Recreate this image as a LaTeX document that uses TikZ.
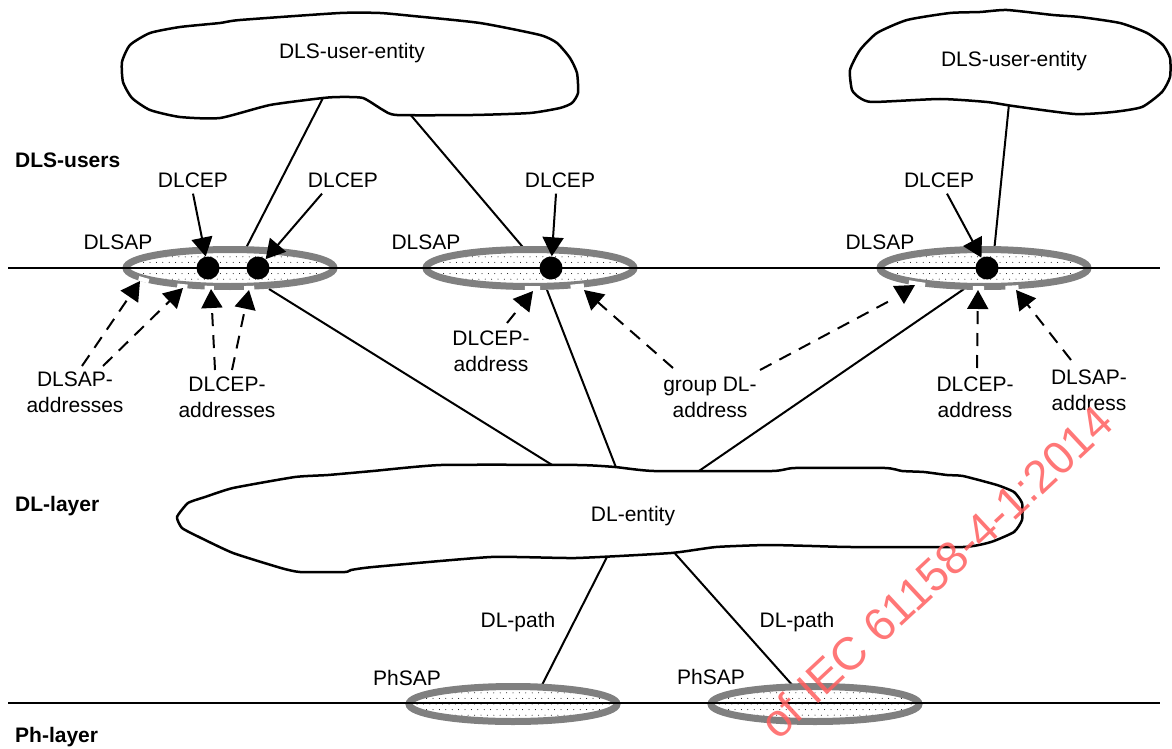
\documentclass[tikz,border=0pt]{standalone}
\usepackage{fontspec}
\setmainfont{Liberation Sans}
\usetikzlibrary{arrows.meta}
\definecolor{sapgray}{RGB}{128,128,128}
\definecolor{wmred}{RGB}{255,95,95}

% dotted interior of a service access point ellipse
\newcommand\sapdots[4]{%
  \begin{scope}
    \clip (#1,#2) ellipse [x radius=#3, y radius=#4];
    \foreach \j in {-4,...,4} {
      \foreach \i in {-18,...,18} {
        \fill[black] ({#1+6.4*\i+3.2*mod(abs(\j),2)}, {#2+5.6*\j}) circle (0.5);
      }
    }
  \end{scope}}

% gap in the lower rim of an ellipse, between two parameter angles
\newcommand\rimgap[6]{%
  \draw[notch] (#1,#2) ++(#5:#3 and #4) arc[start angle=#5, end angle=#6, x radius=#3, y radius=#4];}

\begin{document}
\begin{tikzpicture}[x=1pt,y=-1pt,
  lbl/.style={font=\fontsize{21}{26}\selectfont, inner sep=0pt, align=center},
  layer/.style={font=\fontsize{21}{26}\selectfont\bfseries, inner sep=0pt, anchor=west},
  wire/.style={line width=2pt},
  blob/.style={line width=2.5pt, fill=white, line join=round},
  sapring/.style={draw=sapgray, line width=7pt},
  dot/.style={circle, fill=black, inner sep=0pt, minimum size=23pt},
  ptr/.style={line width=2pt, -{Triangle[length=19pt,width=21pt]}},
  addr/.style={line width=2pt, dash pattern=on 13pt off 9pt, -{Triangle[length=19pt,width=21pt]}},
  notch/.style={white, line width=4.5pt},
]
\useasboundingbox (0,0) rectangle (1172,749);

% ---------- attachment points ----------
\coordinate (u1a) at (323,98);   \coordinate (sapAt) at (244,252);
\coordinate (u1b) at (409,113);  \coordinate (sapBt) at (527,252);
\coordinate (u2a) at (1009,104); \coordinate (sapCt) at (994,252);
\coordinate (sapAb) at (269,289); \coordinate (dle1) at (557,468);
\coordinate (sapBb) at (547,290); \coordinate (dle2) at (617,470);
\coordinate (sapCb) at (964,289); \coordinate (dle3) at (696,473);
\coordinate (dle4) at (609,553); \coordinate (phAt) at (541,687);
\coordinate (dle5) at (671,549); \coordinate (phBt) at (794,687);

% ---------- connecting lines ----------
\draw[wire] (u1a) -- (sapAt);
\draw[wire] (u1b) -- (sapBt);
\draw[wire] (u2a) -- (sapCt);
\draw[wire] (sapAb) -- (dle1);
\draw[wire] (sapBb) -- (dle2);
\draw[wire] (sapCb) -- (dle3);
\draw[wire] (dle4) -- (phAt);
\draw[wire] (dle5) -- (phBt);

% ---------- entities ----------
\draw[blob] plot[smooth cycle, tension=0.35] coordinates {
  (220,23) (240,20) (340,13) (380,13) (413,16) (480,23) (540,35) (557,43)
  (570,58) (577,73) (578,93) (572,103) (560,108) (530,113) (473,115)
  (397,115) (383,110) (363,98) (340,97) (323,98) (270,105) (220,118)
  (180,117) (150,110) (132,98) (123,82) (122,62) (130,45) (150,33) (180,27)};
\node[lbl] (ue1) at (352,53) {DLS-user-entity};

\draw[blob] plot[smooth cycle, tension=0.35] coordinates {
  (850,70) (860,50) (877,33) (907,20) (950,13) (980,12) (1007,10) (1053,15)
  (1080,17) (1120,23) (1147,33) (1163,45) (1170,58) (1170,77) (1162,92)
  (1142,107) (1113,112) (1075,114) (1013,106) (987,102) (940,99) (873,102)
  (860,98) (852,90)};
\node[lbl] (ue2) at (1014,61) {DLS-user-entity};

\draw[blob] plot[smooth cycle, tension=0.3] coordinates {
  (177,517) (182,528) (199,537) (233,553) (281,568) (300,572) (345,572)
  (351,570) (373,567) (491,557) (576,558) (671,553) (716,547) (767,545)
  (812,546) (851,547) (963,547) (991,542) (1014,532) (1022,520) (1022,503)
  (1014,492) (997,485) (963,476) (947,475) (924,472) (902,471) (885,468)
  (795,468) (772,471) (654,471) (615,467) (578,465) (441,465) (373,471)
  (328,475) (295,477) (233,488) (205,497) (188,503)};
\node[lbl] (dle) at (633,516) {DL-entity};

% ---------- service access points ----------
\sapdots{230}{268}{100}{15}
\sapdots{530}{268}{100}{15}
\sapdots{984}{268}{100}{15}
\sapdots{513}{704}{100}{14}
\sapdots{815}{704}{100}{14}

\draw[sapring] (230,268) ellipse [x radius=104, y radius=18.5];
\draw[sapring] (530,268) ellipse [x radius=104, y radius=18.5];
\draw[sapring] (984,268) ellipse [x radius=104, y radius=18.5];
\draw[sapring] (513,704) ellipse [x radius=104, y radius=17.5];
\draw[sapring] (815,704) ellipse [x radius=104, y radius=17.5];

% address marks on the lower rims
\rimgap{230}{268}{105.5}{20.5}{149.9}{140.3}
\rimgap{230}{268}{105.5}{20.5}{120}{113.8}
\rimgap{230}{268}{105.5}{20.5}{103.9}{98.8}
\rimgap{230}{268}{105.5}{20.5}{82.3}{76.7}
\rimgap{530}{268}{105.5}{20.5}{92.8}{84.5}
\rimgap{530}{268}{105.5}{20.5}{67.4}{59.3}
\rimgap{984}{268}{105.5}{20.5}{135.4}{123.9}
\rimgap{984}{268}{105.5}{20.5}{96.1}{90}
\rimgap{984}{268}{105.5}{20.5}{78.3}{70.9}

% layer boundaries
\coordinate (topL) at (8,268);  \coordinate (topR) at (1160,268);
\coordinate (botL) at (8,703);  \coordinate (botR) at (1160,703);
\draw[wire] (topL) -- (topR);
\draw[wire] (botL) -- (botR);

% connection end points
\node[dot] (dA1) at (208,268) {};
\node[dot] (dA2) at (258,268) {};
\node[dot] (dB)  at (551,268) {};
\node[dot] (dC)  at (987,268) {};

% ---------- labels ----------
\node[layer] (lu)  at (15,160) {DLS-users};
\node[layer] (ldl) at (15,506) {DL-layer};
\node[layer] (lph) at (15,737) {Ph-layer};

\node[lbl] (c1) at (193,180) {DLCEP};
\node[lbl] (c2) at (343,180) {DLCEP};
\node[lbl] (c3) at (560,180) {DLCEP};
\node[lbl] (c4) at (939,180) {DLCEP};

\node[lbl] (s1) at (118,242) {DLSAP};
\node[lbl] (s2) at (426,242) {DLSAP};
\node[lbl] (s3) at (880,242) {DLSAP};

\node[lbl] (ad1) at (75,392) {DLSAP-\\addresses};
\node[lbl] (ad2) at (227,397) {DLCEP-\\addresses};
\node[lbl] (ad3) at (491,351) {DLCEP-\\address};
\node[lbl] (ad4) at (710,397) {group DL-\\address};
\node[lbl] (ad5) at (975,397) {DLCEP-\\address};
\node[lbl] (ad6) at (1089,390) {DLSAP-\\address};

\node[lbl] (p1) at (518,622) {DL-path};
\node[lbl] (p2) at (797,622) {DL-path};
\node[lbl] (ph1) at (407,678) {PhSAP};
\node[lbl] (ph2) at (711,677) {PhSAP};

% ---------- connection end point pointers ----------
\draw[ptr] ([yshift=-6pt]c1.south) -- (dA1);
\draw[ptr] ([xshift=-21pt,yshift=-6pt]c2.south) -- (dA2);
\draw[ptr] ([xshift=-4pt,yshift=-6pt]c3.south) -- (dB);
\draw[ptr] ([xshift=8pt,yshift=-6pt]c4.south) -- (dC);

% ---------- address pointers ----------
\coordinate (a1s) at (82,366);   \coordinate (a1e) at (140,281);
\coordinate (a2s) at (103,366);  \coordinate (a2e) at (183,288);
\coordinate (a3s) at (215,370);  \coordinate (a3e) at (211,289);
\coordinate (a4s) at (232,370);  \coordinate (a4e) at (249,290);
\coordinate (b1s) at (507,323);  \coordinate (b1e) at (533,291);
\coordinate (g1s) at (673,368);  \coordinate (g1e) at (584,290);
\coordinate (g2s) at (760,370);  \coordinate (g2e) at (895,298);
\coordinate (c1s) at (977,368);  \coordinate (c1e) at (978,290);
\coordinate (c2s) at (1071,360); \coordinate (c2e) at (1016,290);

\draw[addr] (a1s) -- (a1e);
\draw[addr] (a2s) -- (a2e);
\draw[addr] (a3s) -- (a3e);
\draw[addr] (a4s) -- (a4e);
\draw[addr] (b1s) -- (b1e);
\draw[addr] (g1s) -- (g1e);
\draw[wire, dash pattern=on 13pt off 9pt] (g2s) -- (g2e);
\fill (893,286) -- (915,285) -- (904,304) -- cycle;
\draw[addr] (c1s) -- (c1e);
\draw[addr] (c2s) -- (c2e);

% ---------- stamp ----------
\node[font=\fontsize{46}{46}\selectfont, text=wmred, text opacity=0.85, rotate=43, inner sep=0pt]
  (wm) at (936,572) {of IEC 61158-4-1:2014};
\end{tikzpicture}
\end{document}
